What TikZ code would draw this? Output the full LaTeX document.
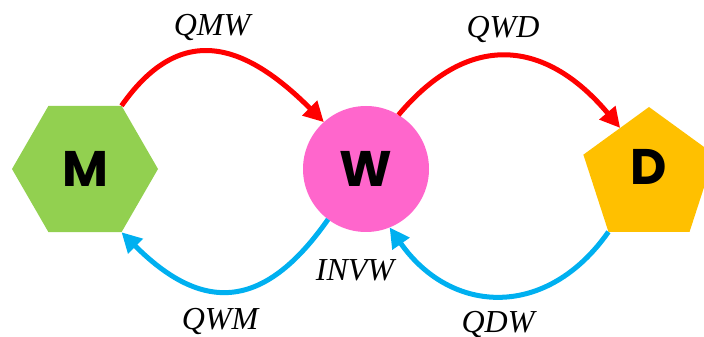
\documentclass[tikz,border=0pt]{standalone}
\usepackage{fontspec}
\setmainfont{Liberation Serif}
\newfontfamily\nodefont{Poppins}
\usetikzlibrary{arrows.meta,shapes.geometric}
\definecolor{qred}{HTML}{FF0000}
\definecolor{qblue}{HTML}{00B0F0}
\definecolor{mgreen}{HTML}{92D050}
\definecolor{wpink}{HTML}{FF66CC}
\definecolor{dgold}{HTML}{FFC000}
\tikzset{
  st/.style={draw=none,inner sep=0pt,outer sep=0pt,font=\nodefont\bfseries\fontsize{50}{50}\selectfont},
  hexa/.style={st,regular polygon,regular polygon sides=6,minimum size=146pt,fill=mgreen},
  circ/.style={st,circle,minimum size=126pt,fill=wpink},
  penta/.style={st,regular polygon,regular polygon sides=5,minimum size=138pt,fill=dgold},
  lbl/.style={font=\itshape\fontsize{32}{32}\selectfont,inner sep=0pt},
  fwd/.style={-{Triangle[length=20pt,width=20pt]},line width=5pt,draw=qred},
  bwd/.style={fwd,draw=qblue},
}
\begin{document}
\begin{tikzpicture}[x=1pt,y=1pt]
  \useasboundingbox (0,0) rectangle (704,337);
  \node[hexa] (M) at (85,168) {M};
  \node[circ] (W) at (366,168) {W};
  \node[penta, label={[st,yshift=9pt]center:D}] (D) at (649,161) {};
  % flows
  \draw[fwd] (M.60) to[out=55,in=135,looseness=1.35] (W.132);
  \draw[fwd] (W.59) to[out=50,in=130,looseness=1.3] (D.121);
  \draw[bwd] (W.233) to[out=235,in=-45,looseness=1.4] (M.-60);
  \draw[bwd] (D.corner 3) to[out=235,in=-55,looseness=1.25] (W.-68);
  % labels
  \node[lbl] (qmw) at (212,309) {QMW};
  \node[lbl] (qwd) at (503,307) {QWD};
  \node[lbl] (invw) at (355,67) {INVW};
  \node[lbl] (qwm) at (220,15) {QWM};
  \node[lbl] (qdw) at (498,12) {QDW};
\end{tikzpicture}
\end{document}
